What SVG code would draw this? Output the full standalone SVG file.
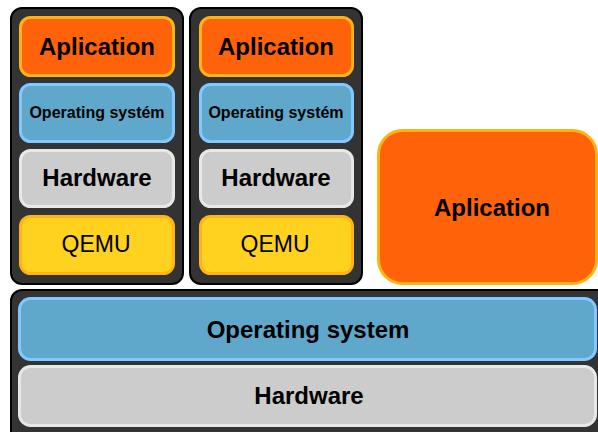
<svg xmlns="http://www.w3.org/2000/svg" width="598" height="432" viewBox="0 0 598 432">
<style>
.frame{fill:#333333;stroke:#000000;stroke-width:2}
.app{fill:#FF6309;stroke:#FFB315;stroke-width:3}
.os{fill:#5FA8CC;stroke:#80C8FF;stroke-width:3}
.hw{fill:#CCCCCC;stroke:#E8E8E8;stroke-width:3}
.qemu{fill:#FFD21F;stroke:#FFB315;stroke-width:3}
text{font-family:"Liberation Sans",Arial,sans-serif;fill:#000000;text-anchor:middle}
.b{font-weight:bold;font-size:24px}
.s{font-weight:bold;font-size:16px}
.r{font-size:23px}
</style>
<rect x="0" y="0" width="598" height="432" fill="#ffffff"/>
<g id="vm1">
<rect class="frame" x="11" y="8" width="172" height="276" rx="11"/>
<g id="vm1-app"><rect class="app" x="20.5" y="17.5" width="153" height="58" rx="10"/><text class="b" x="97" y="55">Aplication</text></g>
<g id="vm1-os"><rect class="os" x="20.5" y="84.5" width="153" height="57" rx="10"/><text class="s" x="97" y="118">Operating systém</text></g>
<g id="vm1-hw"><rect class="hw" x="20.5" y="150.5" width="153" height="56" rx="10"/><text class="b" x="97" y="186">Hardware</text></g>
<g id="vm1-qemu"><rect class="qemu" x="20.5" y="216.5" width="153" height="57" rx="10"/><text class="r" x="96" y="252">QEMU</text></g>
</g>
<g id="vm2">
<rect class="frame" x="190" y="8" width="172" height="276" rx="11"/>
<g id="vm2-app"><rect class="app" x="200.5" y="17.5" width="152" height="58" rx="10"/><text class="b" x="276" y="55">Aplication</text></g>
<g id="vm2-os"><rect class="os" x="200.5" y="84.5" width="152" height="57" rx="10"/><text class="s" x="276" y="118">Operating systém</text></g>
<g id="vm2-hw"><rect class="hw" x="200.5" y="150.5" width="152" height="56" rx="10"/><text class="b" x="276" y="186">Hardware</text></g>
<g id="vm2-qemu"><rect class="qemu" x="200.5" y="216.5" width="152" height="57" rx="10"/><text class="r" x="275" y="252">QEMU</text></g>
</g>
<g id="host-app">
<rect class="app" x="378.5" y="130.5" width="218" height="153" rx="24"/>
<text class="b" x="492" y="216">Aplication</text>
</g>
<g id="host">
<rect class="frame" x="11" y="290" width="620" height="160" rx="11"/>
<g id="host-os"><rect class="os" x="19.5" y="298.5" width="576" height="61" rx="11"/><text class="b" x="308" y="338">Operating system</text></g>
<g id="host-hw"><rect class="hw" x="19.5" y="366.5" width="576" height="59" rx="11"/><text class="b" x="309" y="404">Hardware</text></g>
</g>
<g id="connectors"></g>
</svg>
